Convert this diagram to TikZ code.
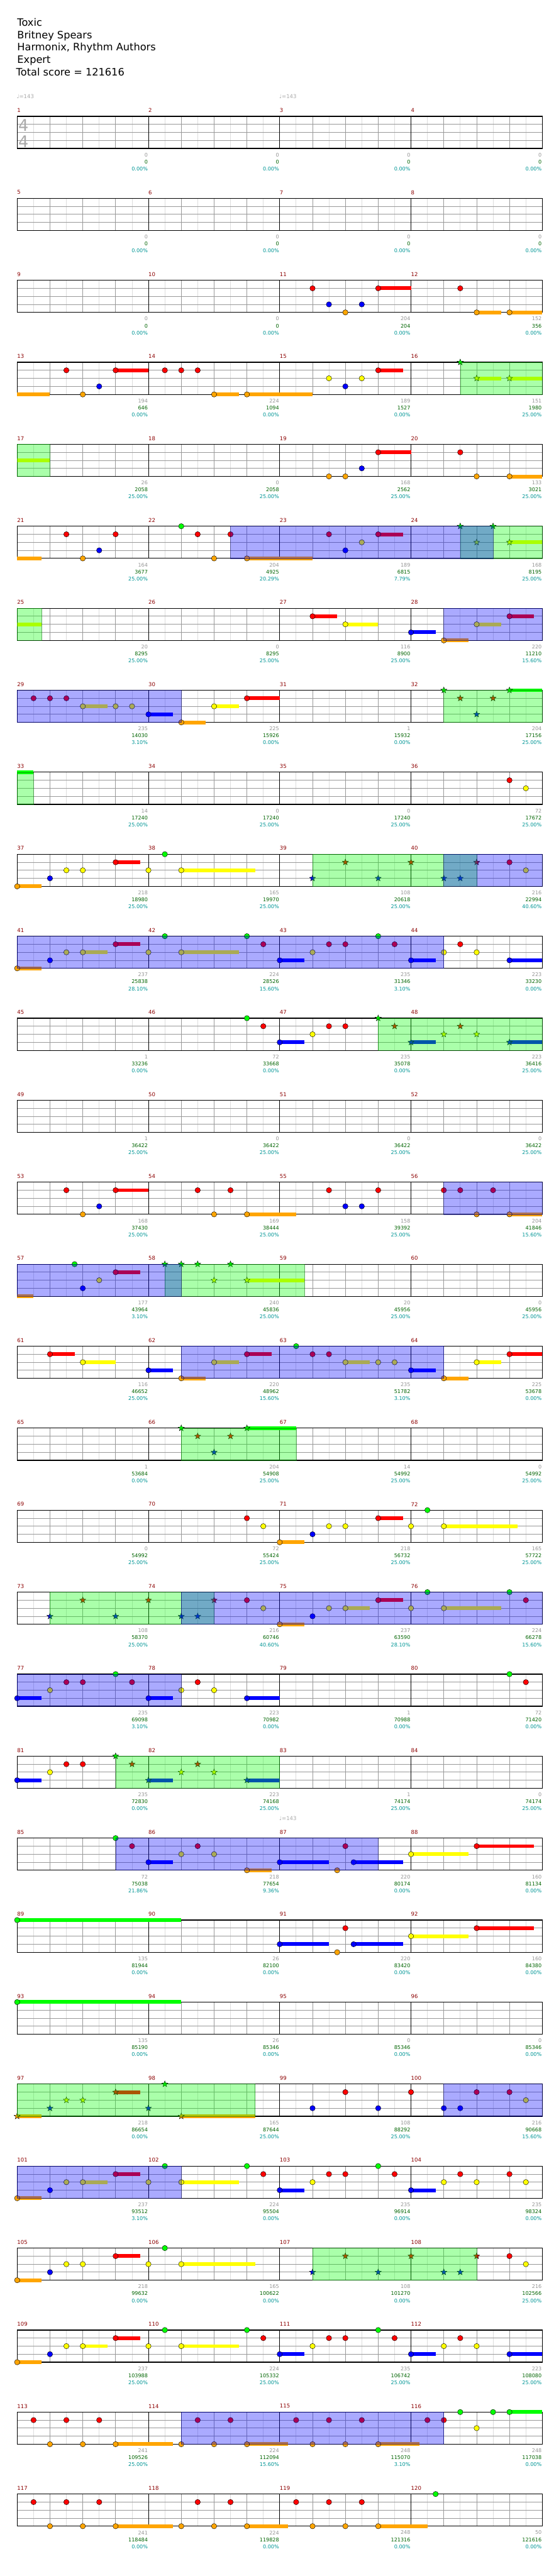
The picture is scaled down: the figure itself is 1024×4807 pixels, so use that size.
\documentclass[tikz,border=0pt]{standalone}
\usepackage{fontspec}
\setmainfont{DejaVu Sans}
\definecolor{lane0}{RGB}{0,255,0}
\definecolor{lane1}{RGB}{255,0,0}
\definecolor{lane2}{RGB}{255,255,0}
\definecolor{lane3}{RGB}{0,0,255}
\definecolor{lane4}{RGB}{255,165,0}
\definecolor{mnum}{RGB}{140,0,0}
\definecolor{gnum}{RGB}{150,150,150}
\definecolor{snum}{RGB}{0,100,0}
\definecolor{pnum}{RGB}{0,150,150}
\definecolor{lightgrid}{RGB}{221,221,221}
\definecolor{midgrid}{RGB}{153,153,153}
\definecolor{tsig}{RGB}{170,170,170}
\tikzset{
 smallnum/.style={font=\fontsize{9.5}{10}\selectfont, inner sep=0pt, anchor=east},
 mlabel/.style={font=\fontsize{10}{10}\selectfont, inner sep=0pt, anchor=west, text=mnum},
 gridlight/.style={draw=lightgrid, line width=1pt},
 gridmid/.style={draw=midgrid, line width=1pt},
 gridbar/.style={draw=black, line width=0.9pt},
 staffbox/.style={draw=black, line width=1.4pt},
 notehead/.style={draw=black, line width=0.5pt},
 zoneg/.style={fill=lane0, fill opacity=0.333, draw=green!45!black, draw opacity=0.6, line width=0.8pt},
 zoneb/.style={fill=lane3, fill opacity=0.333, draw=blue!45!black, draw opacity=0.6, line width=0.8pt},
 zonen/.style={},
 titletext/.style={font=\fontsize{19}{23}\selectfont, inner sep=0pt, anchor=base west},
 tempotext/.style={font=\fontsize{10}{10}\selectfont, text=tsig, inner sep=0pt, anchor=west},
 tsigtext/.style={font=\fontsize{30}{30}\selectfont, text=tsig, inner sep=0pt, anchor=base west},
}
\newcommand\drawstar[3]{%
  \filldraw[fill=#3,draw=black,line width=0.5pt,shift={(#1,#2)}]
    (-90:6) -- (-54:2.5) -- (-18:6) -- (18:2.5) -- (54:6) -- (90:2.5) -- (126:6) -- (162:2.5) -- (198:6) -- (234:2.5) -- cycle;}
\newcommand\chartrow[4]{%
 \pgfmathsetmacro\yT{217+(#1-1)*153}%
 \begin{scope}[shift={(0,\yT)}]
  \foreach \q in {1,3,...,31} {\draw[gridlight] ({32+30.625*\q},0) -- ({32+30.625*\q},60);}
  \foreach \q in {2,4,6,10,12,14,18,20,22,26,28,30} {\draw[gridmid] ({32+30.625*\q},0) -- ({32+30.625*\q},60);}
  \foreach \q in {15,30,45} {\draw[gridmid] (32,\q) -- (1012,\q);}
  \foreach \q in {8,16,24} {\draw[gridbar] ({32+30.625*\q},0) -- ({32+30.625*\q},60);}
  \draw[staffbox] (32,0) rectangle (1012,60);
  \foreach \kk in {0,...,3} {
    \pgfmathtruncatemacro\mm{4*(#1-1)+\kk+1}
    \node[mlabel] (m\mm) at ({32+245*\kk},-11) {\mm};
  }
  \foreach \kk/\ga/\gb/\gc in {#4} {
    \pgfmathtruncatemacro\mm{4*(#1-1)+\kk}
    \node[smallnum, text=gnum] (ga\mm) at ({31+245*\kk},72) {\ga};
    \node[smallnum, text=snum] (gb\mm) at ({31+245*\kk},85) {\gb};
    \node[smallnum, text=pnum] (gc\mm) at ({31+245*\kk},98) {\gc\%};
  }
  \foreach \p/\l/\e/\s in {#2} {
    \ifnum\s=9 \else
      \pgfmathsetmacro\xx{32+30.625*\p}
      \pgfmathsetmacro\yy{15*\l}
      \ifdim\e pt>-0.5pt
        \pgfmathsetmacro\xe{32+30.625*\e}
        \fill[lane\l] (\xx,\yy-3.5) rectangle (\xe,\yy+3.5);
      \fi
      \ifnum\s=0 \filldraw[fill=lane\l, notehead] (\xx,\yy) circle [radius=5pt]; \fi
      \ifnum\s=1 \drawstar{\xx}{\yy}{lane\l} \fi
    \fi
  }
  \foreach \zt/\za/\zb in {#3} {\path[zone\zt] ({32+30.625*\za},0) rectangle ({32+30.625*\zb},60);}
 \end{scope}
}
\begin{document}
\begin{tikzpicture}[x=1pt,y=-1pt]
\useasboundingbox (0,0) rectangle (1024,4807);
\fill[white] (0,0) rectangle (1024,4807);
\node[titletext] (t1) at (32,49) {Toxic};
\node[titletext] (t2) at (32,72) {Britney Spears};
\node[titletext] (t3) at (32,95) {Harmonix, Rhythm Authors};
\node[titletext] (t4) at (32,118) {Expert};
\node[titletext] (t5) at (30,141) {Total score = 121616};
\node[tempotext] (tp1) at (31,180) {♩=143};
\node[tempotext] (tp2) at (521,180) {♩=143};
\node[tempotext] (tp3) at (521,3393) {♩=143};

\chartrow{1}{0/0/-1/9}{n/0/0}{1/0/0/0.00,2/0/0/0.00,3/0/0/0.00,4/0/0/0.00}
\node[tsigtext] (ts1) at (34,245) {4};
\node[tsigtext] (ts2) at (34,275) {4};
\chartrow{2}{0/0/-1/9}{n/0/0}{1/0/0/0.00,2/0/0/0.00,3/0/0/0.00,4/0/0/0.00}
\chartrow{3}{18/1/-1/0,19/3/-1/0,20/4/-1/0,21/3/-1/0,22/1/24/0,27/1/-1/0,28/4/29.5/0,30/4/32/0}{n/0/0}{1/0/0/0.00,2/0/0/0.00,3/204/204/0.00,4/152/356/0.00}
\chartrow{4}{0/4/2/2,3/1/-1/0,4/4/-1/0,5/3/-1/0,6/1/8/0,9/1/-1/0,10/1/-1/0,11/1/-1/0,12/4/13.5/0,14/4/18/0,19/2/-1/0,20/3/-1/0,21/2/-1/0,22/1/23.5/0,27/0/-1/1,28/2/29.5/1,30/2/32/1}{g/27/32}{1/194/646/0.00,2/224/1094/0.00,3/189/1527/0.00,4/151/1980/25.00}
\chartrow{5}{0/2/2/2,19/4/-1/0,20/4/-1/0,21/3/-1/0,22/1/24/0,27/1/-1/0,28/4/-1/0,30/4/32/0}{g/0/2}{1/26/2058/25.00,2/0/2058/25.00,3/168/2562/25.00,4/133/3021/25.00}
\chartrow{6}{0/4/1.5/2,3/1/-1/0,4/4/-1/0,5/3/-1/0,6/1/-1/0,10/0/-1/0,11/1/-1/0,12/4/-1/0,13/1/-1/0,14/4/18/0,19/1/-1/0,20/3/-1/0,21/2/-1/0,22/1/23.5/0,27/0/-1/1,28/2/-1/1,29/0/-1/1,30/2/32/1}{g/27/32,b/13/29}{1/164/3677/25.00,2/204/4925/20.29,3/189/6815/7.79,4/168/8195/25.00}
\chartrow{7}{0/2/1.5/2,18/1/19.5/0,20/2/22/0,24/3/25.5/0,26/4/27.5/0,28/2/29.5/0,30/1/31.5/0}{g/0/1.5,b/26/32}{1/20/8295/25.00,2/0/8295/25.00,3/116/8900/25.00,4/220/11210/15.60}
\chartrow{8}{1/1/-1/0,2/1/-1/0,3/1/-1/0,4/2/5.5/0,6/2/-1/0,7/2/-1/0,8/3/9.5/0,10/4/11.5/0,12/2/13.5/0,14/1/16/0,26/0/-1/1,27/1/-1/1,28/3/-1/1,29/1/-1/1,30/0/32/1}{g/26/32,b/0/10}{1/235/14030/3.10,2/225/15926/0.00,3/1/15932/0.00,4/204/17156/25.00}
\chartrow{9}{0/0/1/2,30/1/-1/0,31/2/-1/0}{g/0/1}{1/14/17240/25.00,2/0/17240/25.00,3/0/17240/25.00,4/72/17672/25.00}
\chartrow{10}{0/4/1.5/0,2/3/-1/0,3/2/-1/0,4/2/-1/0,6/1/7.5/0,8/2/-1/0,9/0/-1/0,10/2/14.5/0,18/3/-1/1,20/1/-1/1,22/3/-1/1,24/1/-1/1,26/3/-1/1,27/3/-1/1,28/1/-1/1,30/1/-1/0,31/2/-1/0}{g/18/28,b/26/32}{1/218/18980/25.00,2/165/19970/25.00,3/108/20618/25.00,4/216/22994/40.60}
\chartrow{11}{0/4/1.5/0,2/3/-1/0,3/2/-1/0,4/2/5.5/0,6/1/7.5/0,8/2/-1/0,9/0/-1/0,10/2/13.5/0,14/0/-1/0,15/1/-1/0,16/3/17.5/0,18/2/-1/0,19/1/-1/0,20/1/-1/0,22/0/-1/0,23/1/-1/0,24/3/25.5/0,26/2/-1/0,27/1/-1/0,28/2/-1/0,30/3/32/0}{b/0/26}{1/237/25838/28.10,2/224/28526/15.60,3/235/31346/3.10,4/223/33230/0.00}
\chartrow{12}{14/0/-1/0,15/1/-1/0,16/3/17.5/0,18/2/-1/0,19/1/-1/0,20/1/-1/0,22/0/-1/1,23/1/-1/1,24/3/25.5/1,26/2/-1/1,27/1/-1/1,28/2/-1/1,30/3/32/1}{g/22/32}{1/1/33236/0.00,2/72/33668/0.00,3/235/35078/0.00,4/223/36416/25.00}
\chartrow{13}{0/0/-1/9}{n/0/0}{1/1/36422/25.00,2/0/36422/25.00,3/0/36422/25.00,4/0/36422/25.00}
\chartrow{14}{3/1/-1/0,4/4/-1/0,5/3/-1/0,6/1/8/0,11/1/-1/0,12/4/-1/0,13/1/-1/0,14/4/17/0,19/1/-1/0,20/3/-1/0,21/3/-1/0,22/1/-1/0,26/1/-1/0,27/1/-1/0,28/4/-1/0,29/1/-1/0,30/4/32/0}{b/26/32}{1/168/37430/25.00,2/169/38444/25.00,3/158/39392/25.00,4/204/41846/15.60}
\chartrow{15}{0/4/1/2,3.5/0/-1/0,4/3/-1/0,5/2/-1/0,6/1/7.5/0,9/0/-1/1,10/0/-1/1,11/0/-1/1,12/2/-1/1,13/0/-1/1,14/2/17.5/1}{g/9/17.5,b/0/10}{1/177/43964/3.10,2/240/45836/25.00,3/20/45956/25.00,4/0/45956/25.00}
\chartrow{16}{2/1/3.5/0,4/2/6/0,8/3/9.5/0,10/4/11.5/0,12/2/13.5/0,14/1/15.5/0,17/0/-1/0,18/1/-1/0,19/1/-1/0,20/2/21.5/0,22/2/-1/0,23/2/-1/0,24/3/25.5/0,26/4/27.5/0,28/2/29.5/0,30/1/32/0}{b/10/26}{1/116/46652/25.00,2/220/48962/15.60,3/235/51782/3.10,4/225/53678/0.00}
\chartrow{17}{10/0/-1/1,11/1/-1/1,12/3/-1/1,13/1/-1/1,14/0/17/1}{g/10/17}{1/1/53684/0.00,2/204/54908/25.00,3/14/54992/25.00,4/0/54992/25.00}
\chartrow{18}{14/1/-1/0,15/2/-1/0,16/4/17.5/0,18/3/-1/0,19/2/-1/0,20/2/-1/0,22/1/23.5/0,24/2/-1/0,25/0/-1/0,26/2/30.5/0}{n/0/0}{1/0/54992/25.00,2/72/55424/25.00,3/218/56732/25.00,4/165/57722/25.00}
\chartrow{19}{2/3/-1/1,4/1/-1/1,6/3/-1/1,8/1/-1/1,10/3/-1/1,11/3/-1/1,12/1/-1/1,14/1/-1/0,15/2/-1/0,16/4/17.5/0,18/3/-1/0,19/2/-1/0,20/2/21.5/0,22/1/23.5/0,24/2/-1/0,25/0/-1/0,26/2/29.5/0,30/0/-1/0,31/1/-1/0}{g/2/12,b/10/32}{1/108/58370/25.00,2/216/60746/40.60,3/237/63590/28.10,4/224/66278/15.60}
\chartrow{20}{0/3/1.5/0,2/2/-1/0,3/1/-1/0,4/1/-1/0,6/0/-1/0,7/1/-1/0,8/3/9.5/0,10/2/-1/0,11/1/-1/0,12/2/-1/0,14/3/16/0,30/0/-1/0,31/1/-1/0}{b/0/10}{1/235/69098/3.10,2/223/70982/0.00,3/1/70988/0.00,4/72/71420/0.00}
\chartrow{21}{0/3/1.5/0,2/2/-1/0,3/1/-1/0,4/1/-1/0,6/0/-1/1,7/1/-1/1,8/3/9.5/1,10/2/-1/1,11/1/-1/1,12/2/-1/1,14/3/16/1}{g/6/16}{1/235/72830/0.00,2/223/74168/25.00,3/1/74174/25.00,4/0/74174/25.00}
\chartrow{22}{6/0/-1/0,7/1/-1/0,8/3/9.5/0,10/2/-1/0,11/1/-1/0,12/2/-1/0,14/4/15.5/0,16/3/19/0,19.5/4/-1/0,20/1/-1/0,20.5/3/23.5/0,24/2/27.5/0,28/1/31.5/0}{b/6/22}{1/72/75038/21.86,2/218/77654/9.36,3/220/80174/0.00,4/160/81134/0.00}
\chartrow{23}{0/0/10/0,16/3/19/0,19.5/4/-1/0,20/1/-1/0,20.5/3/23.5/0,24/2/27.5/0,28/1/31.5/0}{n/0/0}{1/135/81944/0.00,2/26/82100/0.00,3/220/83420/0.00,4/160/84380/0.00}
\chartrow{24}{0/0/10/0}{n/0/0}{1/135/85190/0.00,2/26/85346/0.00,3/0/85346/0.00,4/0/85346/0.00}
\chartrow{25}{0/4/1.5/1,2/3/-1/1,3/2/-1/1,4/2/-1/1,6/1/7.5/1,8/3/-1/1,9/0/-1/1,10/4/14.5/1,18/3/-1/0,20/1/-1/0,22/3/-1/0,24/1/-1/0,26/3/-1/0,27/3/-1/0,28/1/-1/0,30/1/-1/0,31/2/-1/0}{g/0/14.5,b/26/32}{1/218/86654/0.00,2/165/87644/25.00,3/108/88292/25.00,4/216/90668/15.60}
\chartrow{26}{0/4/1.5/0,2/3/-1/0,3/2/-1/0,4/2/5.5/0,6/1/7.5/0,8/2/-1/0,9/0/-1/0,10/2/13.5/0,14/0/-1/0,15/1/-1/0,16/3/17.5/0,18/2/-1/0,19/1/-1/0,20/1/-1/0,22/0/-1/0,23/1/-1/0,24/3/25.5/0,26/2/-1/0,27/1/-1/0,28/2/-1/0,30/1/-1/0,31/2/-1/0}{b/0/10}{1/237/93512/3.10,2/224/95504/0.00,3/235/96914/0.00,4/235/98324/0.00}
\chartrow{27}{0/4/1.5/0,2/3/-1/0,3/2/-1/0,4/2/-1/0,6/1/7.5/0,8/2/-1/0,9/0/-1/0,10/2/14.5/0,18/3/-1/1,20/1/-1/1,22/3/-1/1,24/1/-1/1,26/3/-1/1,27/3/-1/1,28/1/-1/1,30/1/-1/0,31/2/-1/0}{g/18/28}{1/218/99632/0.00,2/165/100622/0.00,3/108/101270/0.00,4/216/102566/25.00}
\chartrow{28}{0/4/1.5/0,2/3/-1/0,3/2/-1/0,4/2/5.5/0,6/1/7.5/0,8/2/-1/0,9/0/-1/0,10/2/13.5/0,14/0/-1/0,15/1/-1/0,16/3/17.5/0,18/2/-1/0,19/1/-1/0,20/1/-1/0,22/0/-1/0,23/1/-1/0,24/3/25.5/0,26/2/-1/0,27/1/-1/0,28/2/-1/0,30/3/32/0}{n/0/0}{1/237/103988/25.00,2/224/105332/25.00,3/235/106742/25.00,4/223/108080/25.00}
\chartrow{29}{1/1/-1/0,2/4/-1/0,3/1/-1/0,4/4/-1/0,5/1/-1/0,6/4/9.5/0,10/4/-1/0,11/1/-1/0,12/4/-1/0,13/1/-1/0,14/4/16.5/0,17/1/-1/0,18/4/-1/0,19/1/-1/0,20/4/-1/0,21/1/-1/0,22/4/24.5/0,25/1/-1/0,26/1/-1/0,27/0/-1/0,28/2/-1/0,29/0/-1/0,30/0/32/0}{b/10/26}{1/241/109526/25.00,2/224/112094/15.60,3/248/115070/3.10,4/248/117038/0.00}
\chartrow{30}{1/1/-1/0,2/4/-1/0,3/1/-1/0,4/4/-1/0,5/1/-1/0,6/4/9.5/0,10/4/-1/0,11/1/-1/0,12/4/-1/0,13/1/-1/0,14/4/16.5/0,17/1/-1/0,18/4/-1/0,19/1/-1/0,20/4/-1/0,21/1/-1/0,22/4/25/0,25.5/0/-1/0}{n/0/0}{1/241/118484/0.00,2/224/119828/0.00,3/248/121316/0.00,4/50/121616/0.00}
\end{tikzpicture}
\end{document}
